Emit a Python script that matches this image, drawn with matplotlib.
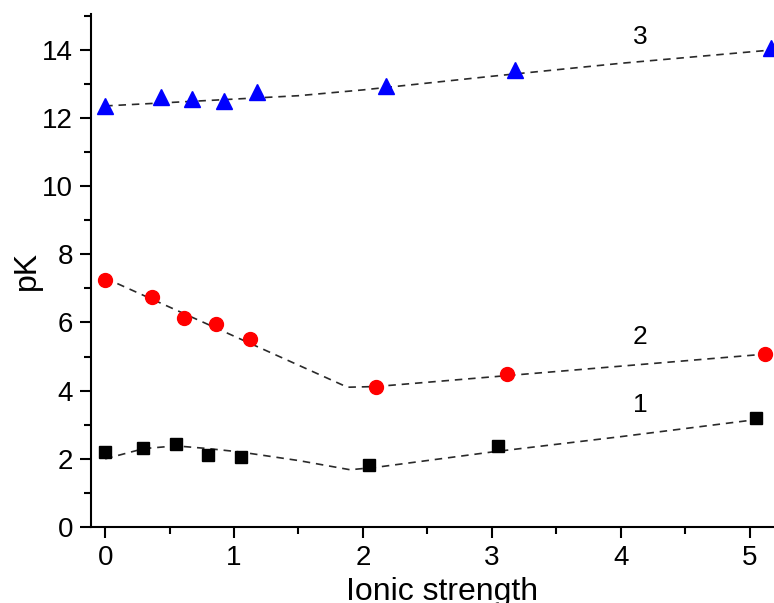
import matplotlib
matplotlib.use("Agg")
import matplotlib.pyplot as plt
from matplotlib.ticker import MultipleLocator

plt.rcParams["font.family"] = ["Liberation Sans", "DejaVu Sans"]

# measured points
ionic_1 = [0.0, 0.29, 0.55, 0.8, 1.05, 2.05, 3.05, 5.05]
pk_1 = [2.2, 2.33, 2.43, 2.11, 2.06, 1.82, 2.37, 3.2]

ionic_2 = [0.0, 0.36, 0.61, 0.86, 1.12, 2.1, 3.12, 5.12]
pk_2 = [7.24, 6.74, 6.14, 5.95, 5.51, 4.1, 4.49, 5.07]

ionic_3 = [0.0, 0.43, 0.67, 0.92, 1.18, 2.18, 3.18, 5.17]
pk_3 = [12.35, 12.6, 12.54, 12.48, 12.77, 12.94, 13.4, 14.05]

# fitted curves (dashed)
fit_x_1 = [0.0, 0.3, 0.55, 0.8, 1.05, 1.5, 1.9, 2.1, 3.0, 4.0, 5.05]
fit_y_1 = [2.0, 2.3, 2.38, 2.3, 2.2, 1.95, 1.68, 1.75, 2.2, 2.65, 3.15]

fit_x_2 = [0.0, 1.88, 2.1, 5.12]
fit_y_2 = [7.3, 4.1, 4.12, 5.07]

fit_x_3 = [0.0, 0.5, 1.0, 1.5, 2.0, 3.0, 4.0, 5.2]
fit_y_3 = [12.35, 12.45, 12.55, 12.65, 12.82, 13.22, 13.6, 14.0]

curve_labels = ["1", "2", "3"]
label_x = [4.15, 4.15, 4.15]
label_y = [3.58, 5.57, 14.37]

fig = plt.figure(figsize=(7.74, 6.03), dpi=100)
ax = fig.add_axes([0.1176, 0.126, 0.8824, 0.851])

dash_kw = dict(color="#2a2a2a", lw=1.2, ls=(0, (4.5, 3.5)), zorder=2)
ax.plot(fit_x_1, fit_y_1, **dash_kw)
ax.plot(fit_x_2, fit_y_2, **dash_kw)
ax.plot(fit_x_3, fit_y_3, **dash_kw)

ax.plot(ionic_1, pk_1, ls="none", marker="s", ms=9, color="black", zorder=3)
ax.plot(ionic_2, pk_2, ls="none", marker="o", ms=10, color="red", zorder=3)
ax.plot(ionic_3, pk_3, ls="none", marker="^", ms=11.5, color="blue", zorder=3)

for lab, lx, ly in zip(curve_labels, label_x, label_y):
    ax.text(lx, ly, lab, fontsize=19, ha="center", va="center")

ax.set_xlim(-0.11, 5.19)
ax.set_ylim(0, 15.05)
ax.xaxis.set_major_locator(MultipleLocator(1))
ax.xaxis.set_minor_locator(MultipleLocator(0.5))
ax.yaxis.set_major_locator(MultipleLocator(2))
ax.yaxis.set_minor_locator(MultipleLocator(1))

for side in ["top", "right"]:
    ax.spines[side].set_visible(False)
for side in ["left", "bottom"]:
    ax.spines[side].set_linewidth(1.5)

ax.tick_params(which="major", direction="out", length=8, width=1.5, labelsize=20, pad=5)
ax.tick_params(which="minor", direction="out", length=5, width=1.5)

ax.set_xlabel("Ionic strength", fontsize=23)
ax.set_ylabel("pK", fontsize=23)
ax.xaxis.set_label_coords(0.514, -0.098, transform=ax.transAxes)
ax.xaxis.label.set_va("top")
ax.yaxis.set_label_coords(-0.094, 0.5, transform=ax.transAxes)
ax.yaxis.label.set_va("center")

plt.savefig("out.png", dpi=100)
